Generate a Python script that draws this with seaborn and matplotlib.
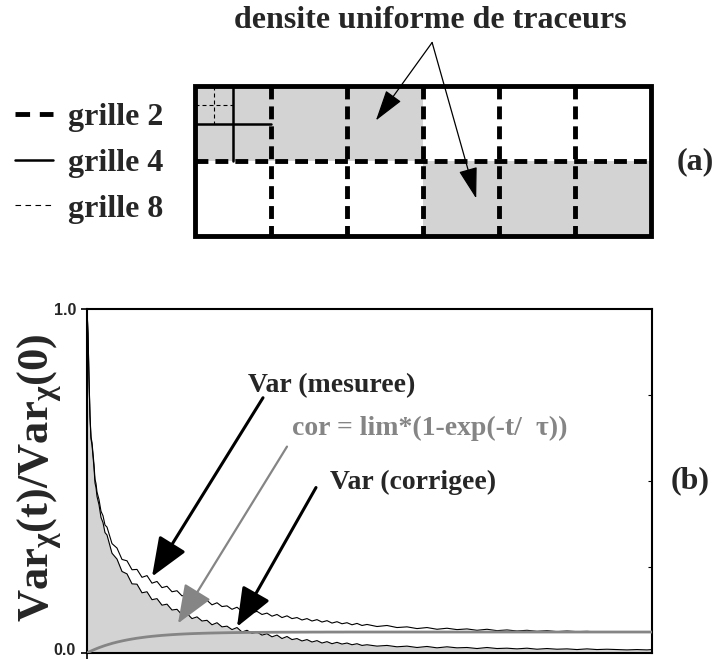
import numpy as np
import pandas as pd
import matplotlib
matplotlib.use("Agg")
import matplotlib.pyplot as plt
import matplotlib.transforms as mtrans
import seaborn as sns
from matplotlib.lines import Line2D
from matplotlib.patches import Rectangle
from matplotlib.ticker import FixedLocator

sns.set_theme(style="white")
plt.rcParams["font.family"] = ["Liberation Serif", "DejaVu Serif"]
plt.rcParams["mathtext.fontset"] = "custom"
plt.rcParams["mathtext.rm"] = "Liberation Serif:bold"
plt.rcParams["mathtext.it"] = "Liberation Serif:bold"
plt.rcParams["mathtext.bf"] = "Liberation Serif:bold"

# ---------------------------------------------------------------- data (b)
t = [0, 1, 2, 3, 4, 5, 6, 7, 8, 9, 10, 12, 14, 16, 18, 20,
     25, 30, 35, 40, 45, 50, 55, 60, 65, 70, 75, 80, 85, 90, 95, 100,
     105, 110, 115, 120, 125, 130, 135, 140, 145, 150, 155, 160, 165, 170,
     175, 180, 185, 190, 195, 200, 205, 210, 215, 220, 225, 230, 235, 240,
     245, 250, 255, 260, 265, 270, 275, 280,
     290, 300, 310, 320, 330, 340, 350, 360, 370, 380, 390, 400, 410, 420,
     430, 440, 450, 460, 470, 480, 490, 500, 510, 520, 530, 540, 550, 560, 565]

var_mesuree = [1.000, 0.930, 0.800, 0.690, 0.628, 0.612, 0.580, 0.548, 0.505, 0.493,
               0.468, 0.446, 0.412, 0.399, 0.372, 0.366,
               0.318, 0.305, 0.272, 0.268, 0.242, 0.243, 0.220, 0.225, 0.203, 0.208,
               0.190, 0.194, 0.178, 0.181, 0.166, 0.171,
               0.156, 0.162, 0.150, 0.153, 0.140, 0.146, 0.135, 0.137, 0.127, 0.133,
               0.121, 0.126, 0.117, 0.121,
               0.112, 0.116, 0.107, 0.112, 0.103, 0.108, 0.100, 0.103, 0.096, 0.100,
               0.093, 0.097, 0.090, 0.094,
               0.087, 0.091, 0.085, 0.088, 0.082, 0.086, 0.080, 0.083,
               0.077, 0.080, 0.074, 0.076, 0.071, 0.074, 0.069, 0.072, 0.068, 0.070,
               0.066, 0.069, 0.065, 0.067,
               0.064, 0.066, 0.063, 0.065, 0.062, 0.064, 0.062, 0.063, 0.061, 0.062,
               0.062, 0.061, 0.062, 0.061, 0.062]

correction = [0.0, 0.0015, 0.0029, 0.0043, 0.0057, 0.0070, 0.0083, 0.0096, 0.0108, 0.0120,
              0.0132, 0.0155, 0.0176, 0.0197, 0.0217, 0.0235,
              0.0279, 0.0317, 0.0350, 0.0380, 0.0406, 0.0430, 0.0450, 0.0469, 0.0485, 0.0499,
              0.0512, 0.0523, 0.0533, 0.0542, 0.0550, 0.0557,
              0.0563, 0.0568, 0.0573, 0.0577, 0.0581, 0.0584, 0.0587, 0.0590, 0.0592, 0.0594,
              0.0596, 0.0598, 0.0599, 0.0600,
              0.0601, 0.0602, 0.0603, 0.0604, 0.0605, 0.0605, 0.0606, 0.0606, 0.0607, 0.0607,
              0.0608, 0.0608, 0.0608, 0.0609,
              0.0609, 0.0609, 0.0609, 0.0610, 0.0610, 0.0610, 0.0610, 0.0610,
              0.0610, 0.0610, 0.0610, 0.0610, 0.0610, 0.0610, 0.0610, 0.0610, 0.0610, 0.0610,
              0.0610, 0.0610, 0.0610, 0.0610,
              0.0610, 0.0610, 0.0610, 0.0610, 0.0610, 0.0610, 0.0610, 0.0610, 0.0610, 0.0610,
              0.0610, 0.0610, 0.0610, 0.0610, 0.0610]

var_corrigee = [1.000, 0.929, 0.797, 0.686, 0.622, 0.605, 0.572, 0.538, 0.494, 0.481,
                0.455, 0.431, 0.394, 0.379, 0.350, 0.343,
                0.290, 0.273, 0.237, 0.230, 0.201, 0.200, 0.175, 0.178, 0.155, 0.158,
                0.139, 0.142, 0.125, 0.127, 0.111, 0.115,
                0.100, 0.105, 0.093, 0.095, 0.082, 0.088, 0.076, 0.078, 0.068, 0.074,
                0.061, 0.066, 0.057, 0.061,
                0.052, 0.056, 0.047, 0.052, 0.042, 0.048, 0.039, 0.042, 0.035, 0.039,
                0.032, 0.036, 0.029, 0.033,
                0.027, 0.031, 0.026, 0.029, 0.024, 0.027, 0.022, 0.024,
                0.020, 0.022, 0.018, 0.020, 0.016, 0.019, 0.015, 0.018, 0.015, 0.016,
                0.013, 0.016, 0.013, 0.014,
                0.012, 0.014, 0.011, 0.013, 0.011, 0.012, 0.010, 0.012, 0.010, 0.011,
                0.010, 0.009, 0.010, 0.009, 0.010]

# ---------------------------------------------------------------- data (a)
n_cols, n_rows = 6, 2
shaded_cells = [(0, 0), (1, 0), (2, 0), (3, 1), (4, 1), (5, 1)]   # (col, row), row 0 on top
grid_labels = ["grille 2", "grille 4", "grille 8"]

df = pd.DataFrame({"t": t, "mesuree": var_mesuree,
                   "cor": correction, "corrigee": var_corrigee})

W, H = 718, 660
fig = plt.figure(figsize=(W / 100, H / 100), dpi=100)
fig.patch.set_facecolor("white")

def fx(px):
    return px / W

def fy(py):
    return 1 - py / H

FILL = "#d3d3d3"
GREY = "#858585"
BIG = 23
MID = 20

thick_dash = (0, (2.65, 1.45))
thin_dash = (0, (3.6, 2.7))

# ================================================================ panel (a)
axg = fig.add_axes([fx(195), fy(236), fx(651) - fx(195), fy(86) - fy(236)])
axg.set_xlim(0, n_cols)
axg.set_ylim(n_rows, 0)
axg.axis("off")

for c, r in shaded_cells:
    axg.add_patch(Rectangle((c, r), 1, 1, facecolor=FILL, edgecolor="none", zorder=1))

# level-2 grid: thick dashed lines between every cell
for c in range(1, n_cols):
    axg.plot([c, c], [0, n_rows], color="black", lw=3.5, ls=thick_dash,
             clip_on=False, zorder=3, dash_capstyle="butt")
for r in range(1, n_rows):
    axg.plot([0, n_cols], [r, r], color="black", lw=3.5, ls=thick_dash,
             clip_on=False, zorder=3, dash_capstyle="butt")

# level-4 grid inside the first cell
axg.plot([0.5, 0.5], [0, 1], color="black", lw=1.8, clip_on=False, zorder=3)
axg.plot([0, 1], [0.5, 0.5], color="black", lw=1.8, clip_on=False, zorder=3)
# level-8 grid inside the first sub-cell
axg.plot([0.25, 0.25], [0, 0.5], color="black", lw=0.8, ls=thin_dash, clip_on=False, zorder=3)
axg.plot([0, 0.5], [0.25, 0.25], color="black", lw=0.8, ls=thin_dash, clip_on=False, zorder=3)

axg.add_patch(Rectangle((0, 0), n_cols, n_rows, facecolor="none", edgecolor="black",
                        lw=3.5, clip_on=False, zorder=4, joinstyle="miter"))

fig.text(fx(430), fy(20), "densite uniforme de traceurs", ha="center", va="center",
         fontsize=BIG, fontweight="bold")
fig.text(fx(695), fy(162), "(a)", ha="center", va="center", fontsize=BIG, fontweight="bold")

for tip in [(2.38, 0.46), (3.70, 1.50)]:
    axg.annotate("", xy=tip, xytext=(3.12, -0.58),
                 arrowprops=dict(arrowstyle="-|>,head_length=1.4,head_width=0.42",
                                 lw=0.9, color="black", mutation_scale=14,
                                 shrinkA=0, shrinkB=0), annotation_clip=False, zorder=6)

handles = [Line2D([], [], color="black", lw=3.5, ls=(0, (3.0, 2.0))),
           Line2D([], [], color="black", lw=1.8),
           Line2D([], [], color="black", lw=0.8, ls=(0, (5.0, 4.0)))]
leg = fig.legend(handles, grid_labels, loc="center left",
                 bbox_to_anchor=(fx(15), fy(163)), frameon=False,
                 prop=dict(family="Liberation Serif", weight="bold", size=BIG),
                 handlelength=1.2, handletextpad=0.45, labelspacing=0.52,
                 borderaxespad=0, borderpad=0)

# ================================================================ panel (b)
ax = fig.add_axes([fx(87), fy(653), fx(652) - fx(87), fy(309) - fy(653)])
ax.set_xlim(0, 565)
ax.set_ylim(0, 1)

ax.fill_between(df["t"], 0, df["corrigee"], color=FILL, lw=0, zorder=1)
sns.lineplot(data=df, x="t", y="mesuree", ax=ax, color="black", lw=0.8, zorder=3)
sns.lineplot(data=df, x="t", y="corrigee", ax=ax, color="black", lw=0.8, zorder=3)
sns.lineplot(data=df, x="t", y="cor", ax=ax, color=GREY, lw=2.0, zorder=4)
ax.set_xlabel("")
ax.set_ylabel("")

for s in ax.spines.values():
    s.set_visible(True)
    s.set_color("black")
    s.set_linewidth(1.5)

ax.set_xticks([0])
ax.set_xticklabels([""])
ax.set_yticks([0, 1])
ax.set_yticklabels(["0.0", "1.0"], fontfamily="Liberation Sans", fontweight="bold", fontsize=11.5)
ax.yaxis.set_minor_locator(FixedLocator([0.25, 0.5, 0.75]))
ax.tick_params(axis="both", which="major", direction="out", length=4, width=1.2,
               color="black", left=True, bottom=True, pad=4)
ax.tick_params(axis="y", which="minor", direction="in", length=3, width=0.8,
               left=False, right=True, color="black")
lab0 = ax.get_yticklabels()[0]
lab0.set_transform(lab0.get_transform() + mtrans.ScaledTranslation(0, 3 / 72, fig.dpi_scale_trans))

fig.text(fx(40), fy(478), r"Var$_{\chi}$(t)/Var$_{\chi}$(0)", rotation=90,
         ha="center", va="center", fontsize=32, fontweight="bold")
fig.text(fx(690), fy(481), "(b)", ha="center", va="center", fontsize=BIG, fontweight="bold")

fig.text(fx(248), fy(386), "Var (mesuree)", ha="left", va="center",
         fontsize=MID, fontweight="bold")
fig.text(fx(292), fy(428), "cor = lim*(1-exp(-t/  τ))", ha="left", va="center",
         fontsize=MID, fontweight="bold", color=GREY)
fig.text(fx(330), fy(482), "Var (corrigee)", ha="left", va="center",
         fontsize=MID, fontweight="bold")

arrow_specs = [((176, 0.742), (65, 0.222), "black", 2.2),
               ((200, 0.600), (91, 0.086), GREY, 1.6),
               ((229, 0.481), (150, 0.076), "black", 2.2)]
for start, tip, col, lw in arrow_specs:
    ax.annotate("", xy=tip, xytext=start,
                arrowprops=dict(arrowstyle="-|>,head_length=1.5,head_width=0.6",
                                lw=lw, color=col, mutation_scale=16,
                                shrinkA=0, shrinkB=0), zorder=6)

fig.savefig("out.png", dpi=100, facecolor="white")
